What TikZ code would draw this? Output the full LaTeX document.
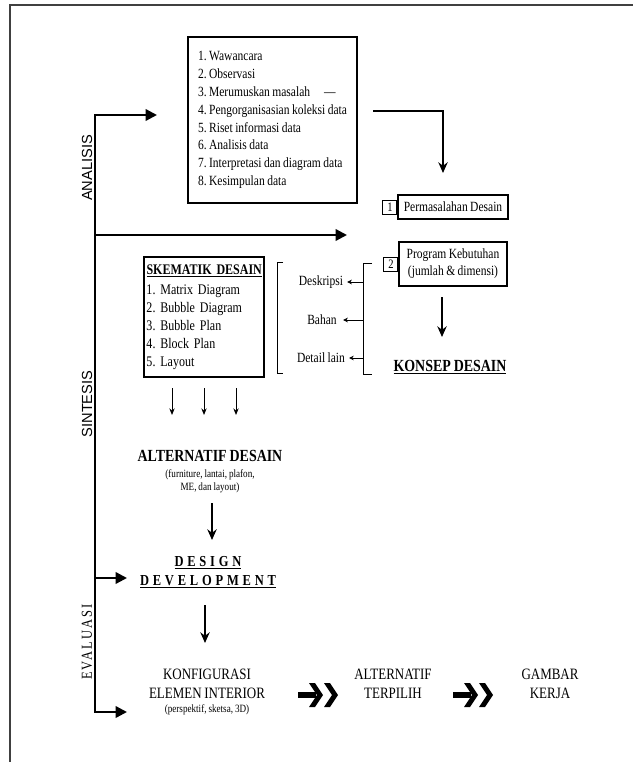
\documentclass[tikz,border=0pt]{standalone}
\usepackage{fontspec}
\setmainfont{Liberation Serif}[FakeStretch=0.82,WordSpace=0.85]
\newfontfamily\sidefont{Liberation Sans}
\usetikzlibrary{arrows.meta,positioning,calc}
\frenchspacing

\tikzset{
  spine/.style={line width=2pt},
  bigarrow/.style={line width=2pt,-{Triangle[length=3.4mm,width=3.4mm]}},
  downarrow/.style={line width=1.4pt,-{Stealth[length=3.2mm,width=2.8mm]}},
  thinarrow/.style={line width=0.8pt,-{Stealth[length=2mm,width=1.6mm]}},
  tinyarrow/.style={line width=0.6pt,-{Stealth[length=1.4mm,width=1.4mm]}},
  listbox/.style={draw,line width=1pt,align=left,inner ysep=0pt,inner xsep=0.3cm,
    minimum width=5.07cm,minimum height=4.98cm,font=\fontsize{12}{15.2}\selectfont},
  labelbox/.style={draw,line width=1pt,align=center,inner sep=1pt,
    font=\fontsize{12}{14.5}\selectfont},
  numbox/.style={draw,line width=0.8pt,inner sep=1pt,minimum size=0.42cm,
    font=\fontsize{11}{12}\selectfont},
  sidelabel/.style={rotate=90,font=\sidefont\fontsize{12.5}{13}\selectfont},
  bigtitle/.style={font=\bfseries\fontsize{14.5}{16}\selectfont},
  plaintext/.style={font=\fontsize{13.5}{16}\selectfont,align=center},
  subtext/.style={font=\fontsize{9.5}{11}\selectfont,align=center},
}
% thick arrow followed by a chevron, as between the last three stages
\newcommand\chevpair[2]{%
  \draw[line width=0.2cm] (#1,#2) -- ++(18,0);
  \foreach \cx in {11,26}{
    \fill ($(#1,#2)+(\cx,-12)$) -- ++(6,0) -- ++(8,12) -- ++(-8,12) -- ++(-6,0) -- ++(8,-12) -- cycle;
  }%
}

\begin{document}
\begin{tikzpicture}[x=0.03cm,y=-0.03cm]
\useasboundingbox (0,0) rectangle (633,762);
% page frame
\draw[line width=1.2pt,black!75] (10,762) -- (10,5) -- (633,5);

% stage labels and spine
\node[sidelabel] (anal) at (87,168) {ANALISIS};
\node[sidelabel] (sint) at (87,404) {SINTESIS};
\node[sidelabel,font=\fontsize{13}{13}\selectfont\addfontfeature{LetterSpace=14}] (eval) at (87,642) {EVALUASI};
\coordinate (sTop) at (95,115);
\coordinate (sBot) at (95,712);
\coordinate (tTop) at (157,115);
\coordinate (tBot) at (127,712);
\draw[spine,{Triangle[length=3.4mm,width=3.4mm]}-{Triangle[length=3.4mm,width=3.4mm]}]
  (tTop) -- (sTop) -- (sBot) -- (tBot);
\coordinate (sMid) at (95,235);
\coordinate (tMid) at (347,235);
\draw[bigarrow] (sMid) -- (tMid);
\coordinate (sDev) at (95,578);
\coordinate (tDev) at (127,578);
\draw[bigarrow] (sDev) -- (tDev);

% analisis
\node[listbox] (data) at (272.5,120) {1. Wawancara\\2. Observasi\\3. Merumuskan masalah\quad —\\4. Pengorganisasian koleksi data\\5. Riset informasi data\\6. Analisis data\\7. Interpretasi dan diagram data\\8. Kesimpulan data};
\coordinate (dOut) at (373,111);
\coordinate (dIn) at (443,173);
\draw[downarrow] (dOut) -| (dIn);

\node[labelbox,minimum width=3.3cm,minimum height=0.72cm] (perm) at (453,207) {Permasalahan Desain};
\node[numbox,anchor=east] (n1) at (perm.west) {1};
\node[labelbox,minimum width=3.24cm,minimum height=1.32cm] (prog) at (453,264) {Program Kebutuhan\\(jumlah \& dimensi)};
\node[numbox,anchor=east] (n2) at (prog.west) {2};
\node[bigtitle] (konsep) at (450,367) {\underline{KONSEP DESAIN}};
\coordinate (kTop) at (442,297);
\coordinate (kBot) at (442,337);
\draw[downarrow] (kTop) -- (kBot);

% sintesis
\node[draw,line width=1pt,minimum width=3.6cm,minimum height=3.6cm,align=left,
  text width=3.45cm,inner xsep=0.075cm,font=\fontsize{12.5}{15.3}\selectfont] (skem) at (204,317)
  {{\bfseries\fontsize{12.5}{14}\selectfont\underline{SKEMATIK DESAIN}}\\[2pt]1. Matrix Diagram\\2. Bubble Diagram\\3. Bubble Plan\\4. Block Plan\\5. Layout};

\node[font=\fontsize{12}{14}\selectfont] (desk) at (321,282) {Deskripsi};
\node[font=\fontsize{12}{14}\selectfont] (bahan) at (322,320) {Bahan};
\node[font=\fontsize{12}{14}\selectfont] (detail) at (321,358) {Detail lain};
\draw[line width=0.8pt] (283,262) -- (277,262) -- (277,373) -- (283,373);
\draw[line width=0.8pt] (372,263) -- (363,263) -- (363,374) -- (372,374);
\coordinate (bDesk) at (363,282);
\coordinate (bBahan) at (363,320);
\coordinate (bDetail) at (363,358);
\draw[tinyarrow] (bDesk) -- (desk.east);
\draw[tinyarrow] (bBahan) -- ([xshift=2pt]bahan.east);
\draw[tinyarrow] (bDetail) -- (detail.east);

\foreach \x in {172,204,236}{
  \coordinate (u\x) at (\x,388);
  \coordinate (v\x) at (\x,415);
  \draw[thinarrow] (u\x) -- (v\x);
}

\node[bigtitle] (altd) at (210,456) {ALTERNATIF DESAIN};
\node[subtext,below=0pt of altd] (altsub) {(furniture, lantai, plafon,\\ME, dan layout)};
\coordinate (aTop) at (212,503);
\coordinate (aBot) at (212,540);
\draw[downarrow] (aTop) -- (aBot);

% evaluasi
\node[font=\bfseries\fontsize{13}{16.5}\selectfont\addfontfeature{LetterSpace=25},align=center] (dev) at (208,572)
  {\underline{DESIGN}\\\underline{DEVELOPMENT}};
\coordinate (cTop) at (205,605);
\coordinate (cBot) at (205,643);
\draw[downarrow] (cTop) -- (cBot);

\node[plaintext] (konf) at (207,684) {KONFIGURASI\\ELEMEN INTERIOR};
\node[subtext,below=-2pt of konf] (konfsub) {(perspektif, sketsa, 3D)};
\node[plaintext] (pilih) at (393,684) {ALTERNATIF\\TERPILIH};
\node[plaintext] (kerja) at (550,684) {GAMBAR\\KERJA};
\chevpair{298}{695}
\chevpair{453}{695}
\end{tikzpicture}
\end{document}
